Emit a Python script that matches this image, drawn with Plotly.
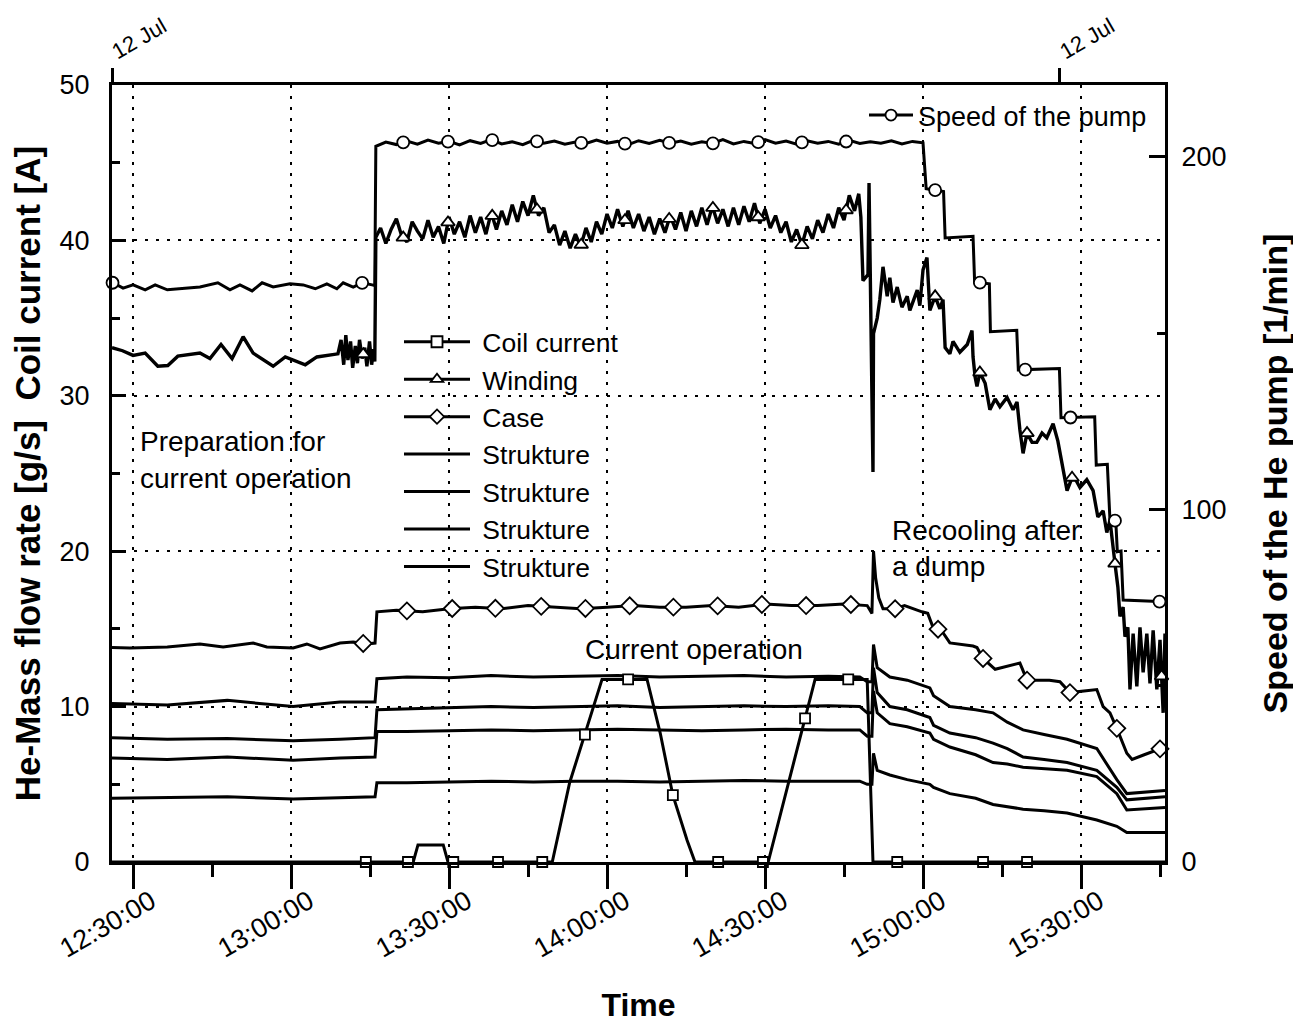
import numpy as np
import pandas as pd
import plotly.graph_objects as go

# ---------------- data (time = minutes after 12:00 on 12 Jul) ----------------
BASE = pd.Timestamp("2004-07-12 12:00:00")

coil_t = [26.0, 83.2, 84.1, 88.9, 89.8, 109.6, 112.9, 115.8, 119.05, 127.6,
          130.1, 132.5, 135.2, 136.7, 150.6, 159.5, 169.4, 170.5, 225.95]
coil_v = [0.0, 0.0, 1.1, 1.1, 0.0, 0.0, 5.1, 8.2, 11.75, 11.75,
          8.3, 4.3, 1.4, 0.0, 0.0, 11.75, 11.75, 0.0, 0.0]

wind_pre_t = [26.0, 28.0, 30.0, 32.3, 34.7, 36.6, 38.5, 42.7, 44.6, 46.7,
              48.8, 50.9, 52.8, 56.6, 58.9, 62.7, 64.9, 68.9, 69.5, 70.0,
              70.4, 70.8, 71.3, 71.7, 72.2, 72.6, 73.0, 73.5, 74.0, 74.4,
              74.9, 75.3, 75.7, 75.9]
wind_pre_v = [33.1, 32.9, 32.6, 32.75, 31.9, 31.95, 32.55, 32.75, 32.4, 33.3,
              32.4, 33.8, 32.75, 31.9, 32.5, 32.0, 32.5, 32.7, 33.6, 32.0,
              33.9, 32.3, 33.5, 31.8, 33.2, 32.1, 33.6, 32.4, 33.1, 31.9,
              33.5, 32.0, 33.0, 32.2]

wind_mid_t = [76.1, 77, 78, 79, 80, 81, 82, 83, 84, 85,
              86, 87, 88, 89, 90, 91, 92, 93, 94, 95,
              96, 97, 98, 99, 100, 101, 102, 103, 104, 105,
              106, 107, 108, 109, 110, 111, 112, 113, 114, 115,
              116, 117, 118, 119, 120, 121, 122, 123, 124, 125,
              126, 127, 128, 129, 130, 131, 132, 133, 134, 135,
              136, 137, 138, 139, 140, 141, 142, 143, 144, 145,
              146, 147, 148, 149, 150, 151, 152, 153, 154, 155,
              156, 157, 158, 159, 160, 161, 162, 163, 164, 165,
              166, 167]
wind_mid_v = [40.2, 40.8, 39.8, 40.7, 41.4, 40.3, 39.9, 41.2, 40.6, 40.1,
              41.3, 40.2, 40.9, 39.8, 41.5, 40.4, 41.2, 40.2, 41.6, 40.5,
              41.5, 40.4, 41.8, 40.7, 41.9, 41.0, 42.3, 41.2, 42.5, 41.6,
              42.9, 41.6, 42.1, 40.5, 41.0, 39.7, 40.6, 39.5, 40.4, 39.6,
              40.8, 39.9, 41.2, 40.4, 41.7, 40.8, 42.0, 40.9, 41.9, 40.8,
              41.7, 40.6, 41.5, 40.4, 41.4, 40.5, 41.6, 40.7, 41.8, 40.6,
              41.9, 40.9, 42.1, 41.0, 42.2, 41.1, 42.0, 40.9, 42.1, 41.0,
              42.2, 41.2, 42.4, 41.1, 42.0, 40.8, 41.6, 40.5, 41.2, 39.9,
              40.7, 39.7, 40.9, 40.1, 41.3, 40.5, 41.7, 40.8, 42.1, 41.3,
              42.9, 41.9]

wind_post_t = [167.8, 168.2, 168.6, 169.55, 169.75, 170.5, 170.6, 171.3, 171.8, 172.4,
               173.2, 173.7, 174.3, 175.1, 176.0, 177.0, 177.5, 178.9, 179.4, 180.0,
               180.75, 181.3, 182.3, 183.2, 183.8, 184.2, 185.1, 185.7, 187.0, 188.4,
               189.3, 189.5, 189.9, 190.25, 190.8, 191.8, 192.7, 193.7, 194.6, 195.95,
               197.1, 197.85, 198.4, 199.0, 199.75, 200.7, 201.6, 202.6, 203.5, 204.7,
               205.6, 206.6, 207.35, 208.5, 209.8, 211.1, 212.3, 213.2, 214.2, 214.9,
               215.5, 216.45, 217.0, 217.4, 218.0, 218.35, 218.9, 219.3, 219.9, 220.6,
               221.2, 221.8, 222.5, 223.1, 223.7, 224.4, 225.0, 225.6, 225.95]
wind_post_v = [43.0, 41.5, 37.4, 37.8, 43.7, 25.1, 34.0, 35.0, 36.2, 38.3,
               36.4, 37.6, 36.0, 37.0, 35.7, 36.4, 35.5, 36.8, 35.8, 38.1,
               38.9, 35.5, 36.4, 35.6, 36.2, 33.1, 32.7, 33.5, 32.8, 33.3,
               34.2, 32.5, 31.2, 30.6, 31.5, 30.8, 29.1, 29.8, 29.3, 29.9,
               29.1, 29.6, 27.8, 26.3, 27.6, 27.0, 27.0, 27.6, 27.3, 28.2,
               27.1, 25.2, 23.9, 24.9, 24.1, 24.6, 23.9, 22.2, 22.6, 21.2,
               22.0, 19.2, 17.7, 15.8, 16.4, 14.5, 15.1, 11.1, 14.7, 11.3,
               15.1, 12.2, 14.7, 11.5, 14.9, 11.1, 14.3, 9.6, 14.7]

case_t = [26.0, 29.4, 36.5, 42.7, 47.1, 52.8, 55.4, 60.4, 63.0, 65.5,
          69.3, 71.8, 74.4, 75.95, 76.3, 80, 85, 90, 95, 100,
          105, 110, 115, 120, 125, 130, 135, 140, 145, 150,
          155, 160, 165, 169.4, 170.3, 170.6, 171.0, 171.6, 172.4, 174.7,
          176.5, 179.8, 180.9, 181.9, 183.5, 185.1, 189.5, 190.25, 191.4, 193.7,
          196.0, 198.4, 199.75, 204.0, 206.0, 207.9, 213.0, 214.2, 215.5, 216.8,
          218.7, 219.7, 222.0, 225.95]
case_v = [13.8, 13.77, 13.84, 14.03, 13.84, 14.09, 13.84, 13.77, 14.03, 13.71,
          14.09, 14.16, 14.03, 14.09, 16.1, 16.2, 16.1, 16.3, 16.4, 16.3,
          16.5, 16.4, 16.3, 16.4, 16.5, 16.4, 16.4, 16.5, 16.4, 16.6,
          16.5, 16.5, 16.6, 16.5, 16.0, 20.0, 18.3, 17.0, 16.3, 16.3,
          16.5, 16.1, 16.0, 15.1, 14.9, 14.1, 13.9, 13.8, 13.1, 12.4,
          12.6, 12.8, 11.7, 11.7, 11.6, 10.9, 11.1, 10.0, 9.6, 8.6,
          7.0, 6.6, 6.9, 7.4]

struk_t = [26.0, 36.5, 47.9, 60.4, 69.3, 75.95, 76.3, 82, 90, 98,
           106, 114, 122, 130, 138, 146, 154, 162, 168.0, 169.4,
           170.3, 170.6, 171.3, 173.7, 177.0, 181.3, 182.0, 185.1, 190.0, 193.3,
           196.0, 199.0, 203.0, 207.35, 213.0, 216.8, 218.7, 225.95]
struk1_v = [10.2, 10.1, 10.4, 10.0, 10.3, 10.3, 11.8, 11.9, 11.85, 12.0,
            11.9, 11.95, 12.0, 11.9, 11.95, 12.0, 11.9, 11.95, 11.9, 11.6,
            11.6, 14.0, 12.5, 11.9, 11.7, 11.2, 10.7, 10.0, 9.8, 9.6,
            9.0, 8.5, 8.2, 7.9, 7.3, 5.3, 4.4, 4.6]
struk2_v = [8.0, 7.9, 7.95, 7.8, 7.9, 8.0, 9.8, 9.85, 9.9, 10.0,
            9.95, 10.0, 10.05, 9.95, 10.0, 10.05, 10.0, 10.05, 10.0, 9.6,
            9.6, 12.5, 10.9, 10.0, 9.8, 9.3, 8.8, 8.3, 8.0, 7.65,
            7.3, 6.76, 6.6, 6.4, 5.9, 4.8, 4.0, 4.2]
struk3_v = [6.7, 6.6, 6.75, 6.55, 6.7, 6.75, 8.4, 8.4, 8.45, 8.5,
            8.45, 8.5, 8.55, 8.5, 8.45, 8.5, 8.55, 8.5, 8.5, 8.1,
            8.1, 11.0, 9.6, 8.9, 8.7, 8.3, 7.9, 7.4, 6.9, 6.4,
            6.3, 6.1, 6.0, 5.9, 5.5, 4.4, 3.35, 3.5]
struk4_v = [4.1, 4.15, 4.2, 4.05, 4.15, 4.2, 5.1, 5.1, 5.15, 5.2,
            5.15, 5.2, 5.2, 5.15, 5.2, 5.25, 5.2, 5.2, 5.2, 5.0,
            5.0, 7.0, 5.9, 5.6, 5.3, 5.0, 4.8, 4.4, 4.1, 3.7,
            3.55, 3.4, 3.3, 3.15, 2.7, 2.3, 1.9, 1.9]

speed_pre_t = [23.7, 26.2, 28.1, 30.0, 32.3, 34.2, 36.5, 42.7, 46.1, 48.4,
               50.3, 52.6, 54.5, 56.6, 59.8, 62.3, 64.6, 66.8, 68.7, 69.9,
               71.8, 73.5, 75.4, 75.9]
speed_pre_v = [164.5, 164.3, 162.8, 163.7, 162.3, 163.7, 162.3, 163.1, 164.3, 162.3,
               163.7, 162.0, 164.3, 163.1, 164.0, 163.7, 162.6, 164.0, 162.6, 164.3,
               163.1, 164.3, 163.7, 163.5]
speed_mid_t = [76.1, 78, 80, 82, 84, 86, 88, 90, 92, 94,
               96, 98, 100, 102, 104, 106, 108, 110, 112, 114,
               116, 118, 120, 122, 124, 126, 128, 130, 132, 134,
               136, 138, 140, 142, 144, 146, 148, 150, 152, 154,
               156, 158, 160, 162, 164, 166, 168, 170, 172, 174,
               176, 178, 180]
speed_mid_v = [203.0, 204.2, 203.5, 204.5, 203.6, 204.8, 203.9, 204.4, 203.4, 204.6,
               203.8, 204.9, 203.7, 204.3, 203.5, 204.7, 203.9, 204.5, 203.6, 204.2,
               203.8, 204.8, 203.9, 204.4, 203.5, 204.6, 203.8, 204.7, 203.9, 204.5,
               203.6, 204.3, 203.8, 204.9, 203.7, 204.4, 203.8, 204.9, 203.9, 204.5,
               203.6, 204.6, 203.9, 204.4, 203.6, 204.7, 203.8, 204.3, 203.9, 204.6,
               203.7, 204.4, 204.0]
speed_post_t = [180.6, 183.9, 184.2, 189.5, 189.8, 192.6, 192.8, 197.8, 198.1, 205.9,
                206.2, 212.6, 212.9, 215.0, 215.5, 216.6, 216.9, 217.6, 218.0, 225.95]
speed_post_v = [191.0, 190.2, 177.0, 177.5, 164.5, 164.0, 150.4, 150.8, 139.6, 140.0,
                126.0, 126.3, 112.6, 112.8, 97.0, 96.8, 88.0, 88.2, 74.3, 73.8]

# marker positions along the curves (minutes after 12:00)
speed_mk_t = [26.1, 73.5, 81.3, 89.8, 98.2, 106.7, 115.1, 123.4, 131.8, 140.1,
              148.7, 157.0, 165.4, 182.3, 190.8, 199.4, 208.0, 216.45, 224.9]
wind_mk_t = [73.7, 81.3, 89.8, 98.2, 106.7, 115.1, 123.4, 131.8, 140.1, 148.7,
             157.0, 165.4, 182.3, 190.8, 199.75, 208.3, 216.45, 225.3]
case_mk_t = [73.7, 82.0, 90.6, 98.8, 107.5, 115.9, 124.3, 132.6, 141.0, 149.4,
             157.8, 166.3, 174.7, 182.85, 191.4, 199.75, 207.9, 216.8, 225.0]
coil_mk_t = [74.2, 82.2, 90.8, 99.3, 107.7, 115.8, 124.0, 132.5, 141.1, 149.6,
             157.6, 165.8, 175.1, 191.4, 199.75]

x_range_min = [26.0, 225.95]
top_tick_min = [26.0, 206.0]
top_tick_text = ["12 Jul", "12 Jul"]

legend_names = ["Coil current", "Winding", "Case",
                "Strukture", "Strukture", "Strukture", "Strukture"]
legend_symbols = ["square", "triangle-up", "diamond", None, None, None, None]

# ---------------- helpers ----------------
def tt(mins):
    return [BASE + pd.Timedelta(minutes=float(m)) for m in mins]

wind_t = wind_pre_t + wind_mid_t + wind_post_t
wind_v = wind_pre_v + wind_mid_v + wind_post_v
speed_t = speed_pre_t + speed_mid_t + speed_post_t
speed_v = speed_pre_v + speed_mid_v + speed_post_v

FONT = "Liberation Sans, Arial, sans-serif"
LW = 3.0
BLACK = "black"
GRID_DASH = "3px,8px"

fig = go.Figure()

def line_trace(t, v, yaxis="y", width=LW):
    return go.Scatter(x=tt(t), y=v, mode="lines", yaxis=yaxis,
                      line=dict(color=BLACK, width=width), showlegend=False,
                      hoverinfo="skip")

def marker_trace(mk_t, t, v, symbol, size, yaxis="y"):
    yv = np.interp(mk_t, t, v)
    return go.Scatter(x=tt(mk_t), y=yv, mode="markers", yaxis=yaxis,
                      marker=dict(symbol=symbol, size=size, color="white",
                                  line=dict(color=BLACK, width=1.8)),
                      showlegend=False, cliponaxis=False, hoverinfo="skip")

# data lines
for sv in [struk1_v, struk2_v, struk3_v, struk4_v]:
    fig.add_trace(line_trace(struk_t, sv))
fig.add_trace(line_trace(case_t, case_v))
fig.add_trace(line_trace(coil_t, coil_v))
fig.add_trace(line_trace(wind_t, wind_v, width=3.4))
fig.add_trace(line_trace(speed_t, speed_v, "y2"))

# markers
fig.add_trace(marker_trace(case_mk_t, case_t, case_v, "diamond", 13))
fig.add_trace(marker_trace(coil_mk_t, coil_t, coil_v, "square", 10))
fig.add_trace(marker_trace(wind_mk_t, wind_t, wind_v, "triangle-up", 12))
fig.add_trace(marker_trace(speed_mk_t, speed_t, speed_v, "circle", 12, "y2"))

# legend entries
def legend_entry(name, symbol=None, legend="legend", yaxis="y"):
    mode = "lines+markers" if symbol else "lines"
    mk = dict(symbol=symbol or "circle", size=11, color="white",
              line=dict(color=BLACK, width=1.8))
    return go.Scatter(x=[None], y=[None], mode=mode, name=name, yaxis=yaxis,
                      line=dict(color=BLACK, width=LW), marker=mk,
                      legend=legend, showlegend=True)

for nm, sym in zip(legend_names, legend_symbols):
    fig.add_trace(legend_entry("\u00a0" + nm, sym))
fig.add_trace(legend_entry("Speed of the pump", "circle", "legend2", "y2"))

# empty trace so the top date axis is drawn
fig.add_trace(go.Scatter(x=[None], y=[None], xaxis="x2", yaxis="y",
                         showlegend=False, hoverinfo="skip"))

# plot area in page pixels: x 112..1165, y 85..862
def px_x(px):
    return (px - 112) / 1053.0

def px_y(py):
    return (862 - py) / 777.0

ann_font = dict(family=FONT, size=28, color=BLACK)
annotations = [
    dict(text="Preparation for", x=px_x(138), y=px_y(441), xanchor="left"),
    dict(text="current operation", x=px_x(138), y=px_y(478), xanchor="left"),
    dict(text="Current operation", x=px_x(694), y=px_y(649), xanchor="center"),
    dict(text="Recooling after", x=px_x(890), y=px_y(530), xanchor="left"),
    dict(text="a dump", x=px_x(890), y=px_y(566), xanchor="left"),
]
for a in annotations:
    a.update(xref="paper", yref="paper", yanchor="middle", showarrow=False,
             font=ann_font)

fig.update_layout(
    width=1301, height=1026,
    margin=dict(l=104, r=144, t=77, b=172),
    paper_bgcolor="white", plot_bgcolor="white",
    font=dict(family=FONT, size=27, color=BLACK),
    annotations=annotations,
    legend=dict(x=px_x(399), y=px_y(318), xanchor="left", yanchor="top",
                bgcolor="rgba(0,0,0,0)", font=dict(family=FONT, size=26.5),
                itemwidth=66, tracegroupgap=0),
    legend2=dict(x=px_x(864), y=px_y(91), xanchor="left", yanchor="top",
                 bgcolor="rgba(0,0,0,0)", font=dict(family=FONT, size=27),
                 itemwidth=44),
    xaxis=dict(type="date", range=tt(x_range_min), tickformat="%H:%M:%S",
               dtick=30 * 60 * 1000, tick0=tt([30])[0], tickangle=-30,
               ticks="outside", ticklen=24, tickwidth=2.5, tickcolor=BLACK,
               ticklabelshift=18, ticklabelstandoff=-14,
               showline=True, linewidth=3.2, linecolor=BLACK, mirror=True,
               showgrid=True, gridcolor=BLACK, gridwidth=2, griddash=GRID_DASH,
               zeroline=False, automargin=False,
               minor=dict(ticks="outside", ticklen=12, tickwidth=2.5,
                          tickcolor=BLACK, dtick=15 * 60 * 1000,
                          tick0=tt([30])[0], showgrid=False),
               title=dict(text="Time", standoff=32,
                          font=dict(family=FONT, size=32, weight="bold"))),
    xaxis2=dict(type="date", overlaying="x", side="top", anchor="y",
                range=tt(x_range_min), tickvals=tt(top_tick_min),
                ticktext=top_tick_text, tickangle=-30, ticks="outside",
                ticklen=16, tickwidth=2.5, tickcolor=BLACK, showline=False,
                showgrid=False, zeroline=False, automargin=False,
                ticklabelstandoff=-2,
                tickfont=dict(family=FONT, size=22)),
    yaxis=dict(range=[0, 50], dtick=10, ticks="inside", ticklen=14,
               tickwidth=2.5, tickcolor=BLACK, ticklabelstandoff=14,
               showline=True, linewidth=3.2, linecolor=BLACK,
               showgrid=True, gridcolor=BLACK, gridwidth=2, griddash=GRID_DASH,
               zeroline=False, automargin=False,
               minor=dict(ticks="inside", ticklen=8, tickwidth=2.5,
                          tickcolor=BLACK, dtick=5, showgrid=False),
               title=dict(text="He-Mass flow rate [g/s]\u00a0\u00a0Coil current [A]",
                          standoff=10,
                          font=dict(family=FONT, size=35, weight="bold"))),
    yaxis2=dict(overlaying="y", side="right", anchor="x", range=[0, 220.4],
                dtick=100, ticks="inside", ticklen=16, tickwidth=2.5,
                tickcolor=BLACK, ticklabelstandoff=8,
                showline=True, linewidth=3.2, linecolor=BLACK,
                showgrid=False, zeroline=False, automargin=False,
                minor=dict(ticks="inside", ticklen=8, tickwidth=2.5,
                           tickcolor=BLACK, dtick=50, showgrid=False),
                title=dict(text="Speed of the He pump [1/min]", standoff=38,
                           font=dict(family=FONT, size=34, weight="bold"))),
)

fig.write_html("out.html")
